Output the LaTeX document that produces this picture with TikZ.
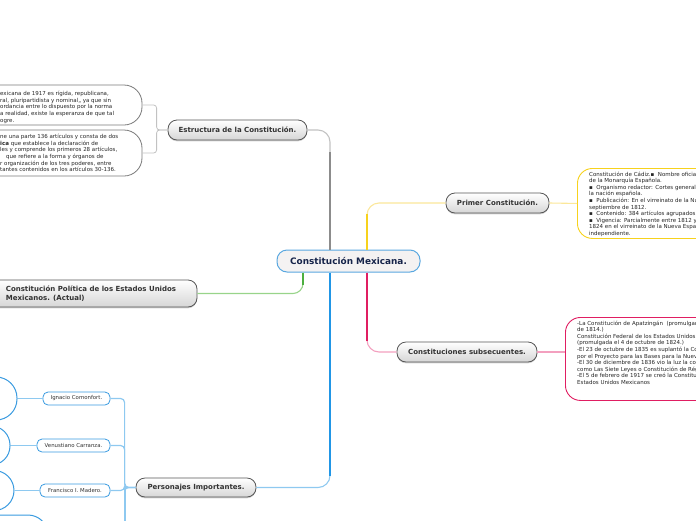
\documentclass[tikz,border=0pt]{standalone}
\usepackage{fontspec}
\setmainfont{DejaVu Sans}
\usetikzlibrary{shadows}
\definecolor{cmborder}{HTML}{5AA8E0}
\definecolor{cmfill}{HTML}{F4F2F2}
\definecolor{cmtext}{HTML}{16244A}
\definecolor{catborder}{HTML}{555555}
\definecolor{cattext}{HTML}{333333}
\definecolor{grayv}{HTML}{8C8C8C}
\definecolor{grayh}{HTML}{C2C2C2}
\definecolor{greenv}{HTML}{4CAF3F}
\definecolor{greenh}{HTML}{98D48A}
\definecolor{bluev}{HTML}{2196E6}
\definecolor{blueh}{HTML}{8EC9F0}
\definecolor{yellowv}{HTML}{F7D21D}
\definecolor{yellowh}{HTML}{FBE79A}
\definecolor{pinkv}{HTML}{E01E62}
\definecolor{pinkh}{HTML}{F3A0BF}
\definecolor{pbox}{HTML}{3A9BE0}
\definecolor{tboxgray}{HTML}{7A7A7A}
\begin{document}
\begin{tikzpicture}[x=1pt,y=-1pt,
  catbox/.style={draw=catborder, line width=0.8pt, rounded corners=9pt,
    top color=white, bottom color=black!16, text=cattext,
    font=\fontsize{7}{8.6}\selectfont\bfseries, inner sep=0pt,
    drop shadow={shadow xshift=0pt, shadow yshift=-1.3pt, opacity=0.35}},
  cmbox/.style={draw=cmborder, line width=1pt, rounded corners=10pt, fill=cmfill,
    text=cmtext, font=\fontsize{8.9}{10}\selectfont\bfseries, inner sep=0pt},
  tbox/.style={draw=tboxgray, line width=0.8pt, fill=white, rounded corners=18pt, inner sep=0pt},
  pers/.style={draw=pbox, line width=0.8pt, fill=white, rounded corners=5pt,
    text=cattext, font=\fontsize{5.4}{6.6}\selectfont, inner sep=0pt},
  circbox/.style={draw=pbox, line width=1pt, fill=white, rounded corners=20pt, inner sep=0pt},
  smalltext/.style={anchor=north west, inner sep=0pt, align=left, text=black!85,
    font=\fontsize{5.5}{6.6}\selectfont},
  vline/.style={line width=2.2pt},
  hline/.style={line width=1.1pt, rounded corners=12pt},
]
\useasboundingbox (0,0) rectangle (696,520);

% ---------- central node ----------
\node[cmbox, minimum width=143pt, minimum height=22pt] (cm) at (348.5,261) {Constitución Mexicana.};

% ---------- main category nodes ----------
\node[catbox, minimum width=139pt, minimum height=20pt] (estr) at (237.5,130) {Estructura de la Constitución.};
\node[catbox, minimum width=212pt, minimum height=27pt, align=left] (cp) at (91,293.5)
  {Constitución Política de los Estados Unidos\\Mexicanos. (Actual)};
\node[catbox, minimum width=120pt, minimum height=19pt] (persn) at (196,487.5) {Personajes Importantes.};
\node[catbox, minimum width=103pt, minimum height=20pt] (prim) at (497.5,203) {Primer Constitución.};
\node[catbox, minimum width=140pt, minimum height=20pt] (cons) at (467,352) {Constituciones subsecuentes.};

% ---------- branches from the centre ----------
\draw[grayh, hline] ([xshift=-18.5pt]cm.north) |- (estr.east);
\draw[grayv, vline] ([xshift=-18.5pt]cm.north) -- ++(0,-98);
\draw[greenh, hline, rounded corners=10pt] ([xshift=-45.5pt]cm.south) |- (cp.east);
\draw[greenv, vline] ([xshift=-45.5pt]cm.south) -- ++(0,12);
\draw[blueh, hline] ([xshift=-18.5pt]cm.south) |- (persn.east);
\draw[bluev, vline] ([xshift=-18.5pt]cm.south) -- ++(0,203);
\draw[yellowh, hline] ([xshift=18.5pt]cm.north) |- (prim.west);
\draw[yellowv, vline] ([xshift=18.5pt]cm.north) -- ++(0,-36);
\draw[pinkh, hline] ([xshift=18.5pt]cm.south) |- (cons.west);
\draw[pinkv, vline] ([xshift=18.5pt]cm.south) -- ++(0,68);

% ---------- Estructura children ----------
\node[tbox, minimum width=202pt, minimum height=40pt] (t1) at (41,105) {};
\node[tbox, minimum width=202pt, minimum height=46pt] (t2) at (41,153) {};
\node[smalltext] (t1text) at (0,91) {exicana de 1917 es rígida, republicana,\\
ral, pluripartidista y nominal,, ya que sin\\
ordancia entre lo dispuesto por la norma\\
a realidad, existe la esperanza de que tal\\
ogre.};
\node[smalltext] (t2text) at (0,134) {ne una parte 136 artículos y consta de dos\\
\textbf{ica} que establece la declaración de\\
les y comprende los primeros 28 artículos,\\
\hspace*{6pt}que refiere a la forma y órganos de\\
r organización de los tres poderes, entre\\
tantes contenidos en los artículos 30-136.};
\draw[grayh, line width=0.8pt, rounded corners=3pt] (estr.west) -- ++(-11,0) |- (t1.east);
\draw[grayh, line width=0.8pt, rounded corners=3pt] (estr.west) -- ++(-11,0) |- (t2.east);

% ---------- Primer Constitución child ----------
\node[draw=yellowv, line width=0.9pt, fill=white, rounded corners=15pt, inner sep=0pt,
  minimum width=200pt, minimum height=70pt, anchor=north west] (ybox) at (577,168) {};
\node[smalltext] (ytext) at (589,171.5) {Constitución de Cádiz.▪\ \ Nombre oficial\\
de la Monarquía Española.\\
▪\ \ Organismo redactor: Cortes generales\\
la nación española.\\
▪\ \ Publicación: En el virreinato de la Nueva\\
septiembre de 1812.\\
▪\ \ Contenido: 384 artículos agrupados\\
▪\ \ Vigencia: Parcialmente entre 1812 y\\
1824 en el virreinato de la Nueva España\\
independiente.};
\draw[yellowh, line width=1.1pt] (prim.east) -- (ybox.west);

% ---------- Constituciones subsecuentes child ----------
\node[draw=pinkv, line width=0.9pt, fill=white, rounded corners=15pt, inner sep=0pt,
  minimum width=200pt, minimum height=83pt, anchor=north west] (pkbox) at (565,317) {};
\node[smalltext] (ptext) at (577,320.5) {-La Constitución de Apatzingán\ \ (promulgada\\
de 1814.)\\
Constitución Federal de los Estados Unidos\\
(promulgada el 4 de octubre de 1824.)\\
-El 23 de octubre de 1835 es suplantó la Constitución\\
por el Proyecto para las Bases para la Nueva\\
-El 30 de diciembre de 1836 vio la luz la conocida\\
como Las Siete Leyes o Constitución de Régimen\\
-El 5 de febrero de 1917 se creó la Constitución\\
Estados Unidos Mexicanos};
\draw[pinkh, line width=1.1pt] (cons.east) -- (cons.east -| pkbox.west);

% ---------- Personajes children ----------
\node[pers, minimum width=67pt, minimum height=13pt] (ign) at (76.5,398.5) {Ignacio Comonfort.};
\node[pers, minimum width=73pt, minimum height=13pt] (ven) at (73.5,445.5) {Venustiano Carranza.};
\node[pers, minimum width=70pt, minimum height=13pt] (fran) at (75,490.5) {Francisco I. Madero.};
\coordinate (pend) at (125,530);
\draw[blueh, line width=1.2pt, rounded corners=4pt] (persn.west) -- ++(-11,0) |- (ign.east);
\draw[blueh, line width=1.2pt, rounded corners=4pt] (persn.west) -- ++(-11,0) |- (ven.east);
\draw[blueh, line width=1.2pt, rounded corners=4pt] (persn.west) -- ++(-11,0) |- (fran.east);
\draw[blueh, line width=1.2pt] (persn.west) -| (pend);

\node[circbox, minimum width=47pt, minimum height=43pt, rounded corners=21pt] (c1) at (-6.5,398.5) {};
\node[circbox, minimum width=40pt, minimum height=39pt, rounded corners=19pt] (c2) at (-10,445.5) {};
\node[circbox, minimum width=44pt, minimum height=40pt] (c3) at (-8,490.5) {};
\node[circbox, minimum width=78pt, minimum height=45pt] (c4) at (9,537.5) {};
\draw[blueh, line width=1.2pt] (ign.west) -- (c1.east);
\draw[blueh, line width=1.2pt] (ven.west) -- (c2.east);
\draw[blueh, line width=1.2pt] (fran.west) -- (c3.east);
\end{tikzpicture}
\end{document}
